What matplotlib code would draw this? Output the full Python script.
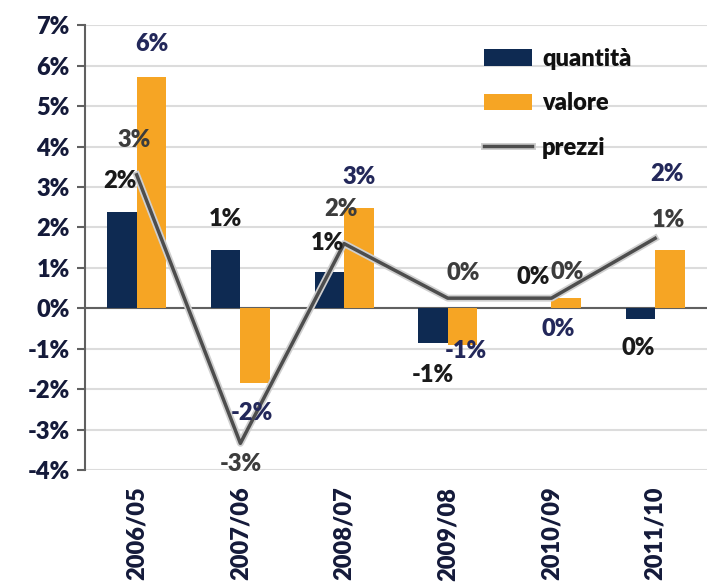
import matplotlib
matplotlib.use("Agg")
import matplotlib.pyplot as plt
import matplotlib.patheffects as pe
import numpy as np

plt.rcParams['font.family'] = ['Lato', 'DejaVu Sans']

# data (percent)
anni = ["2006/05", "2007/06", "2008/07", "2009/08", "2010/09", "2011/10"]
quantita = [2.38, 1.44, 0.90, -0.87, 0.0, -0.27]
valore = [5.72, -1.86, 2.48, -0.92, 0.25, 1.44]
prezzi = [3.30, -3.34, 1.60, 0.25, 0.25, 1.73]

lab_quantita = ["2%", "1%", "1%", "-1%", "0%", "0%"]
lab_valore = ["6%", "-2%", "3%", "-1%", "0%", "2%"]
lab_prezzi = ["3%", "-3%", "2%", "0%", "0%", "1%"]

navy = "#0e2a52"
orange = "#f6a524"
txt = "#141a3a"
peso = "heavy"

fig = plt.figure(figsize=(7.07, 5.88), dpi=100)
ax = fig.add_axes([0.120, 0.2007, 0.880, 0.7563])

x = np.arange(len(anni))
w = 0.285
b1 = ax.bar(x - w / 2, quantita, w, color=navy, label="quantità", zorder=3)
b2 = ax.bar(x + w / 2, valore, w, color=orange, label="valore", zorder=3)
l1, = ax.plot(x, prezzi, color="#4d4d4d", lw=2.5, label="prezzi", zorder=4,
              path_effects=[pe.Stroke(linewidth=5, foreground="#cfcfcf"), pe.Normal()])

ax.axhline(0, color="#606060", lw=1.5, zorder=2)

ax.set_xlim(-0.5, 5.5)
ax.set_ylim(-4, 7)
ax.set_yticks(range(-4, 8))
ax.yaxis.grid(True, color="#dcdcdc", lw=1.5, zorder=0)
ax.set_axisbelow(True)

for s in ["top", "right", "bottom"]:
    ax.spines[s].set_visible(False)
ax.spines["left"].set_color("#606060")
ax.spines["left"].set_linewidth(1.5)
ax.tick_params(axis="y", length=6, width=1.5, color="#606060", pad=5,
               labelcolor=txt)
ax.tick_params(axis="x", length=0, pad=12, labelcolor=txt)
ax.set_yticklabels([f"{v}%" for v in range(-4, 8)], fontsize=17, fontweight=peso)
ax.set_xticks(x)
ax.set_xticklabels(anni, rotation=90, fontweight=peso, fontsize=17, va="top")


def etichetta(testo, xd, yd, dx, dy, col):
    ax.annotate(testo, (xd, yd), xytext=(dx, dy), textcoords="offset pixels",
                ha="center", va="center", fontsize=17, fontweight=peso,
                color=col, zorder=6)


off_q = [(-2, 31), (0, 31), (-2, 29), (0, -32), (-3, 31), (-2, -29)]
off_v = [(0, 33), (-3, -30), (0, 31), (3, -6), (-8, -31), (-3, 76)]
off_p = [(-3, 35), (0, -21), (-3, 35), (15, 25), (16, 26), (13, 18)]

for i in range(len(anni)):
    etichetta(lab_quantita[i], x[i] - w / 2, quantita[i], *off_q[i], "#1a1a1a")
    etichetta(lab_valore[i], x[i] + w / 2, valore[i], *off_v[i], "#23285a")
    etichetta(lab_prezzi[i], x[i], prezzi[i], *off_p[i], "#3c3c3c")

leg = fig.legend([b1, b2, l1], ["quantità", "valore", "prezzi"],
                 loc="upper left", bbox_to_anchor=(0.655, 0.955), frameon=False,
                 fontsize=17, labelspacing=0.95, handlelength=2.0,
                 handleheight=0.7, handletextpad=0.45)
for t in leg.get_texts():
    t.set_fontweight(peso)
    t.set_color("#111111")

fig.savefig("out.png", dpi=100, facecolor="white")
